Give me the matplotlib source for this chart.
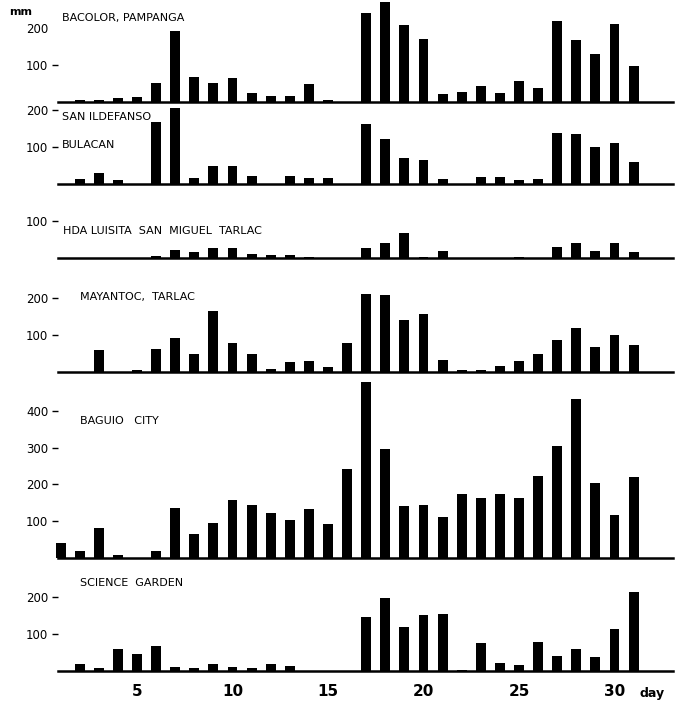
import matplotlib
matplotlib.use("Agg")
import matplotlib.pyplot as plt
import numpy as np

days = list(range(1, 32))

bacolor = [0, 5, 6, 11, 14, 52, 193, 67, 51, 65, 25, 17, 16, 49, 6, 0,
           243, 271, 208, 171, 22, 26, 44, 24, 57, 37, 220, 168, 130, 211, 97]
san_ildefanso = [0, 13, 30, 12, 0, 169, 206, 16, 48, 49, 21, 0, 21, 16, 16, 0,
                 164, 122, 70, 64, 14, 0, 18, 20, 10, 14, 139, 136, 100, 112, 61]
luisita = [0, 0, 0, 0, 0, 5, 22, 16, 27, 27, 10, 7, 9, 3, 0, 0,
           28, 40, 68, 4, 19, 0, 0, 0, 3, 0, 30, 41, 18, 41, 15]
mayantoc = [0, 0, 61, 0, 5, 63, 93, 49, 165, 78, 48, 9, 27, 31, 14, 78,
            213, 208, 141, 157, 32, 6, 6, 15, 29, 50, 88, 119, 68, 101, 73]
baguio = [40, 18, 81, 9, 0, 18, 135, 64, 96, 157, 144, 122, 102, 132, 93, 242,
          478, 296, 141, 143, 112, 175, 163, 173, 162, 224, 304, 432, 203, 118, 219]
science_garden = [0, 20, 7, 61, 45, 69, 11, 8, 20, 10, 9, 19, 13, 0, 0, 0,
                  147, 198, 119, 152, 156, 4, 77, 22, 15, 80, 41, 61, 39, 114, 214]

x_ticks = [5, 10, 15, 20, 25, 30]

W, H = 675, 706
fig = plt.figure(figsize=(W / 100, H / 100), dpi=100)
fig.patch.set_facecolor("white")

FONT = "DejaVu Sans"
SCALE = 0.368           # pixels per mm of rain
LEFT_PX, RIGHT_PX = 58, 673
DAY1_PX, DAY_PX = 60.6, 19.1
xmin = 1 - (DAY1_PX - LEFT_PX) / DAY_PX
xmax = 1 + (RIGHT_PX - DAY1_PX) / DAY_PX

# (values, baseline pixel row, top of range in mm, y ticks, hidden tick marks)
panels = [
    (bacolor, 102, 285, [100, 200], [200]),
    (san_ildefanso, 184, 215, [100, 200], []),
    (luisita, 258, 105, [100], []),
    (mayantoc, 372, 230, [100, 200], []),
    (baguio, 558, 485, [100, 200, 300, 400], []),
    (science_garden, 671, 230, [100, 200], []),
]

axes = []
for vals, base, ymax, yt, hidden in panels:
    hpx = ymax * SCALE
    ax = fig.add_axes([LEFT_PX / W, 1 - base / H, (RIGHT_PX - LEFT_PX) / W, hpx / H])
    ax.patch.set_alpha(0)
    ax.bar(days, vals, width=0.52, color="black", clip_on=False, zorder=3)
    ax.set_xlim(xmin, xmax)
    ax.set_ylim(0, ymax)
    for s in ("top", "right", "left"):
        ax.spines[s].set_visible(False)
    ax.spines["bottom"].set_linewidth(1.8)
    ax.set_yticks(yt)
    ax.set_yticklabels([str(v) for v in yt], fontsize=8.5, family=FONT)
    ax.tick_params(axis="y", length=4, width=1, pad=3, direction="out")
    for t, v in zip(ax.yaxis.get_major_ticks(), yt):
        if v in hidden:
            t.tick1line.set_visible(False)
    ax.set_xticks([])
    axes.append(ax)

bottom = axes[-1]
bottom.set_xticks(x_ticks)
bottom.set_xticklabels([str(v) for v in x_ticks], fontsize=11, fontweight="bold", family=FONT)
bottom.tick_params(axis="x", length=0, pad=9)


def fig_text(px, py, s, size=8, weight="normal", ha="left", va="center"):
    fig.text(px / W, 1 - py / H, s, fontsize=size, fontweight=weight,
             ha=ha, va=va, family=FONT)


fig_text(62, 18, "BACOLOR, PAMPANGA")
fig_text(9, 12, "mm", size=8, weight="bold")
fig_text(62, 117, "SAN ILDEFANSO")
fig_text(62, 145, "BULACAN")
fig_text(63, 231, "HDA LUISITA  SAN  MIGUEL  TARLAC")
fig_text(80, 297, "MAYANTOC,  TARLAC")
fig_text(80, 421, "BAGUIO   CITY")
fig_text(80, 583, "SCIENCE  GARDEN")
fig_text(640, 694, "day", size=9, weight="bold")

fig.savefig("out.png", dpi=100, facecolor="white")
